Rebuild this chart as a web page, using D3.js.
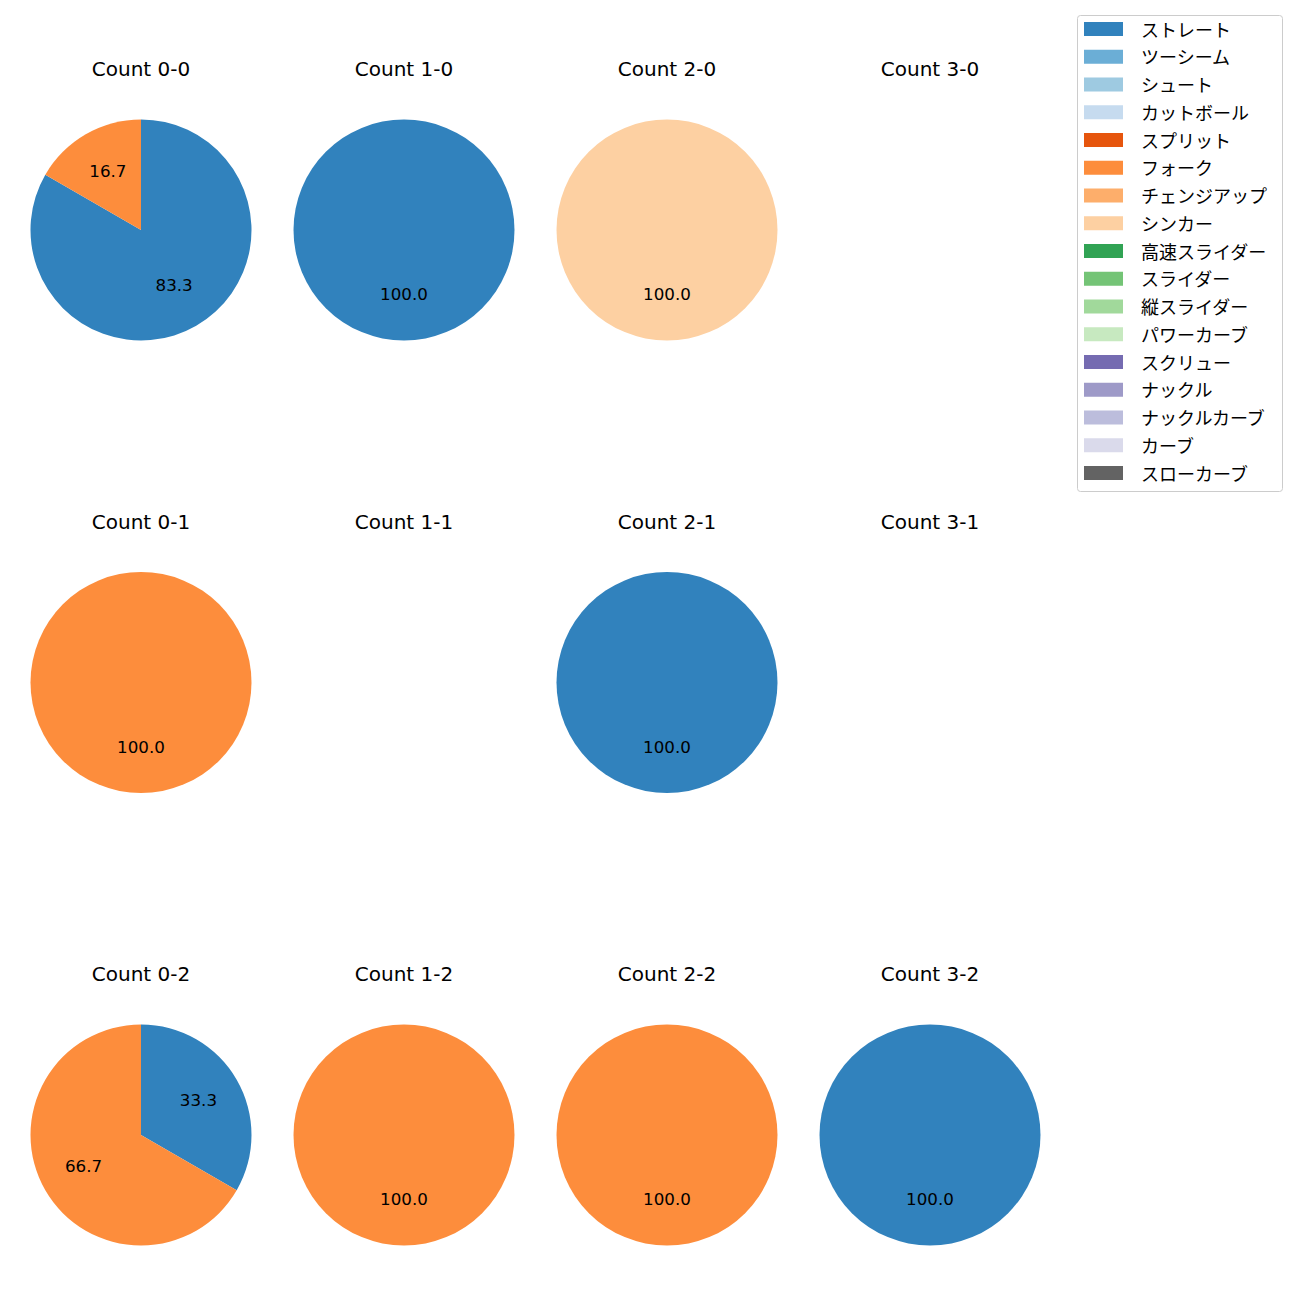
<!DOCTYPE html>
<html><head><meta charset="utf-8">
<script src="https://cdn.jsdelivr.net/npm/d3@7"></script>
<style>body{margin:0;background:#fff}svg{display:block}text{font-family:"DejaVu Sans","Noto Sans CJK JP",sans-serif}</style>
</head><body>
<script>
const pitchTypes = ["ストレート","ツーシーム","シュート","カットボール","スプリット","フォーク","チェンジアップ","シンカー","高速スライダー","スライダー","縦スライダー","パワーカーブ","スクリュー","ナックル","ナックルカーブ","カーブ","スローカーブ"];
const pitchColors = ["#3182bd","#6baed6","#9ecae1","#c6dbef","#e6550d","#fd8d3c","#fdae6b","#fdd0a2","#31a354","#74c476","#a1d99b","#c7e9c0","#756bb1","#9e9ac8","#bcbddc","#dadaeb","#636363"];
const countTitles = ["Count 0-0","Count 1-0","Count 2-0","Count 3-0","Count 0-1","Count 1-1","Count 2-1","Count 3-1","Count 0-2","Count 1-2","Count 2-2","Count 3-2"];
// pitch counts per panel, as [type, count]
const count00 = [["ストレート",5],["フォーク",1]];
const count10 = [["ストレート",1]];
const count20 = [["シンカー",1]];
const count30 = [];
const count01 = [["フォーク",1]];
const count11 = [];
const count21 = [["ストレート",1]];
const count31 = [];
const count02 = [["ストレート",1],["フォーク",2]];
const count12 = [["フォーク",1]];
const count22 = [["フォーク",1]];
const count32 = [["ストレート",1]];
const panels = [count00,count10,count20,count30,count01,count11,count21,count31,count02,count12,count22,count32];

const W=1300,H=1300;
const svg=d3.select("body").append("svg").attr("width",W).attr("height",H);
const color=d3.scaleOrdinal().domain(pitchTypes).range(pitchColors);
const colX=d3.scalePoint().domain([0,1,2,3]).range([141,930]);
const rowY=d3.scalePoint().domain([0,1,2]).range([230,1135]);
const R=110.5;
const pie=d3.pie().sort(null).value(d=>d[1]);
const arc=d3.arc().innerRadius(0).outerRadius(R);
const labelArc=d3.arc().innerRadius(R*0.6).outerRadius(R*0.6);

panels.forEach((data,i)=>{
  const c=i%4, r=Math.floor(i/4);
  const g=svg.append("g").attr("transform",`translate(${colX(c)},${rowY(r)})`);
  g.append("text").attr("x",0).attr("y",-161).attr("text-anchor","middle")
    .attr("dominant-baseline","central").attr("font-size",20).attr("fill","#000").text(countTitles[i]);
  if(!data.length) return;
  const total=d3.sum(data,d=>d[1]);
  const arcs=pie(data);
  g.selectAll("path").data(arcs).enter().append("path").attr("d",arc).attr("fill",d=>color(d.data[0]));
  g.selectAll("text.lbl").data(arcs).enter().append("text").attr("class","lbl")
    .attr("transform",d=>{const p=labelArc.centroid(d);return `translate(${p[0]},${p[1]-2})`;})
    .attr("text-anchor","middle").attr("dominant-baseline","central").attr("font-size",16.7).attr("fill","#000")
    .text(d=>(d.data[1]/total*100).toFixed(1));
});

// legend
const lg=svg.append("g");
lg.append("rect").attr("x",1077.5).attr("y",15.5).attr("width",205).attr("height",476).attr("rx",3)
  .attr("fill","#fff").attr("stroke","#ccc").attr("stroke-width",1);
const ly=d3.scaleLinear().domain([0,pitchTypes.length-1]).range([29,473]);
pitchTypes.forEach((p,i)=>{
  lg.append("rect").attr("x",1084).attr("y",ly(i)-7).attr("width",39).attr("height",14).attr("fill",color(p));
  lg.append("text").attr("x",1141).attr("y",ly(i)+1).attr("dominant-baseline","central").attr("font-size",18).attr("fill","#000").text(p);
});
</script>
</body></html>
